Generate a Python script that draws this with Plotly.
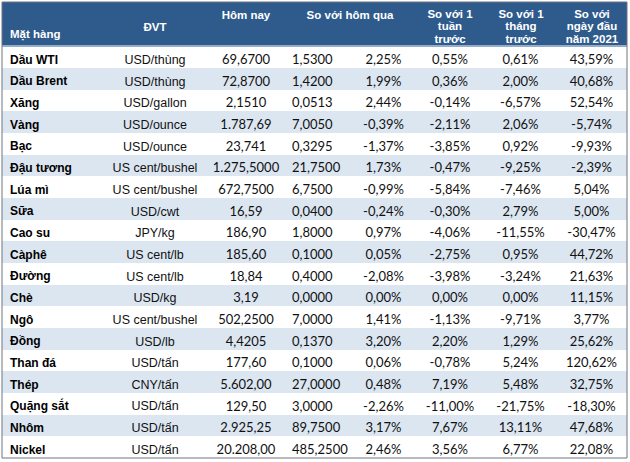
import plotly.graph_objects as go

# ---- data ----
names = ["Dầu WTI", "Dầu Brent", "Xăng", "Vàng", "Bạc", "Đậu tương", "Lúa mì", "Sữa",
         "Cao su", "Càphê", "Đường", "Chè", "Ngô", "Đồng", "Than đá", "Thép",
         "Quặng sắt", "Nhôm", "Nickel"]
units = ["USD/thùng", "USD/thùng", "USD/gallon", "USD/ounce", "USD/ounce", "US cent/bushel",
         "US cent/bushel", "USD/cwt", "JPY/kg", "US cent/lb", "US cent/lb", "USD/kg",
         "US cent/bushel", "USD/lb", "USD/tấn", "CNY/tấn", "USD/tấn", "USD/tấn", "USD/tấn"]
today = ["69,6700", "72,8700", "2,1510", "1.787,69", "23,741", "1.275,5000", "672,7500",
         "16,59", "186,90", "185,60", "18,84", "3,19", "502,2500", "4,4205", "177,60",
         "5.602,00", "129,50", "2.925,25", "20.208,00"]
chg_day = ["1,5300", "1,4200", "0,0513", "7,0050", "0,3295", "21,7500", "6,7500", "0,0400",
           "1,8000", "0,1000", "0,4000", "0,0000", "7,0000", "0,1370", "0,1000", "27,0000",
           "3,0000", "89,7500", "485,2500"]
pct_day = ["2,25%", "1,99%", "2,44%", "-0,39%", "-1,37%", "1,73%", "-0,99%", "-0,24%", "0,97%",
           "0,05%", "-2,08%", "0,00%", "1,41%", "3,20%", "0,06%", "0,48%", "-2,26%", "3,17%",
           "2,46%"]
pct_week = ["0,55%", "0,36%", "-0,14%", "-2,11%", "-3,85%", "-0,47%", "-5,84%", "-0,30%",
            "-4,06%", "-2,75%", "-3,98%", "0,00%", "-1,13%", "2,20%", "-0,78%", "7,19%",
            "-11,00%", "7,67%", "3,56%"]
pct_month = ["0,61%", "2,00%", "-6,57%", "2,06%", "0,92%", "-9,25%", "-7,46%", "2,79%",
             "-11,55%", "0,95%", "-3,24%", "0,00%", "-9,71%", "1,29%", "5,24%", "5,48%",
             "-21,75%", "13,11%", "6,77%"]
pct_ytd = ["43,59%", "40,68%", "52,54%", "-5,74%", "-9,93%", "-2,39%", "5,04%", "5,00%",
           "-30,47%", "44,72%", "21,63%", "11,15%", "3,77%", "25,62%", "120,62%", "32,75%",
           "-18,30%", "47,68%", "22,08%"]
headers = [["Mặt hàng"], ["ĐVT"], ["Hôm nay"], ["So với hôm qua"],
           ["So với 1", "tuần", "trước"], ["So với 1", "tháng", "trước"],
           ["So với", "ngày đầu", "năm 2021"]]

# ---- layout constants (pixels) ----
W, H = 630, 462
LEFT, RIGHT, TOP, BOTTOM = 2, 627, 2, 458
HEAD_BOTTOM = 46.5
n = len(names)
row_h = (BOTTOM - HEAD_BOTTOM) / n
row_c = [HEAD_BOTTOM + (i + 0.5) * row_h + 3.5 for i in range(n)]

HDR = "#2E5B8C"
STRIPE = "#DCE6F1"
TXT = "#111111"

fig = go.Figure()

# backgrounds: header + alternating stripes
y_edges = [TOP, HEAD_BOTTOM] + [HEAD_BOTTOM + (i + 1) * row_h for i in range(n)]
z = [[2]] + [[i % 2] for i in range(n)]
fig.add_trace(go.Heatmap(
    x=[LEFT, RIGHT], y=y_edges, z=z, zmin=0, zmax=2, showscale=False, hoverinfo="skip",
    colorscale=[[0, "#FFFFFF"], [0.25, "#FFFFFF"], [0.25, STRIPE], [0.75, STRIPE],
                [0.75, HDR], [1, HDR]]))

num_font = dict(family="Lato, Calibri, Carlito, sans-serif", size=13, color=TXT)
uni_font = dict(family="Liberation Sans, Arial, sans-serif", size=12.5, color=TXT)
name_font = dict(family="Liberation Sans, Arial, sans-serif", size=12, color="#000000",
                 weight="bold")

def col(vals, x, pos, font):
    fig.add_trace(go.Scatter(x=[x] * len(vals), y=row_c, text=vals, mode="text",
                             textposition=pos, textfont=font, hoverinfo="skip",
                             cliponaxis=False, showlegend=False))

col(names, 10, "middle right", name_font)
col(units, 155, "middle center", uni_font)
col(today, 246, "middle center", num_font)
col(chg_day, 292, "middle right", num_font)
col(pct_day, 383.5, "middle center", num_font)
col(pct_week, 450, "middle center", num_font)
col(pct_month, 520.5, "middle center", num_font)
col(pct_ytd, 591.5, "middle center", num_font)

# header text
hdr_font = dict(family="Liberation Sans, Arial, sans-serif", size=11.5, color="#FFFFFF",
                weight="bold")
hx = [10, 155, 246, 350, 450, 521, 592]
hpos = ["middle right"] + ["middle center"] * 6
for k, lines in enumerate(headers):
    if len(lines) == 3:
        ys = [15, 27.5, 40]
    elif k == 0:
        ys = [35]
    elif k == 1:
        ys = [28]
    else:
        ys = [16]
    fig.add_trace(go.Scatter(x=[hx[k]] * len(lines), y=ys, text=lines, mode="text",
                             textposition=hpos[k], textfont=hdr_font, hoverinfo="skip",
                             cliponaxis=False, showlegend=False))

# borders
fig.add_shape(type="line", x0=LEFT, x1=RIGHT, y0=HEAD_BOTTOM - 0.5, y1=HEAD_BOTTOM - 0.5,
              line=dict(color="#B8C8DC", width=1.5), layer="above")
fig.add_shape(type="rect", x0=LEFT, x1=RIGHT, y0=TOP, y1=BOTTOM,
              line=dict(color="#6E7680", width=1), layer="above")

fig.update_layout(
    width=W, height=H, margin=dict(l=0, r=0, t=0, b=0),
    paper_bgcolor="#FFFFFF", plot_bgcolor="#FFFFFF", showlegend=False,
    xaxis=dict(range=[0, W], visible=False, fixedrange=True),
    yaxis=dict(range=[H, 0], visible=False, fixedrange=True),
)
fig.write_html("out.html", config={"displayModeBar": False, "staticPlot": True},
               post_script="document.body.style.margin='0';")
